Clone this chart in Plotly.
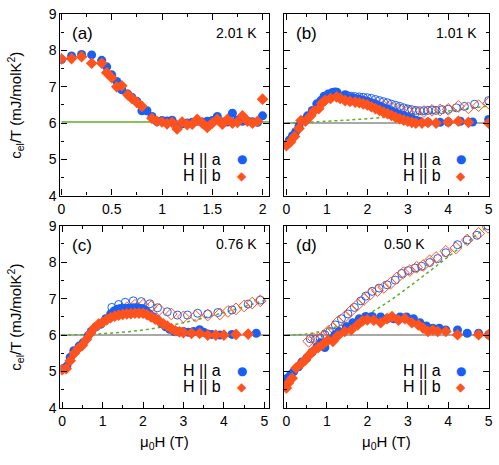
import plotly.graph_objects as go

# ---- data ------------------------------------------------------------------
# (a) 2.01 K
a_h_a = [0.0, 0.10, 0.20, 0.30, 0.40, 0.45, 0.50, 0.55, 0.60, 0.66, 0.70, 0.75, 0.80, 0.85, 0.90, 0.95,
         1.00, 1.05, 1.10, 1.15, 1.20, 1.25, 1.30, 1.35, 1.40, 1.45, 1.50, 1.55, 1.60, 1.65, 1.70, 1.75,
         1.80, 1.85, 1.90, 1.95, 2.00]
a_c_a = [7.75, 7.85, 7.89, 7.88, 7.73, 7.55, 7.33, 7.15, 6.92, 6.80, 6.71, 6.60, 6.34, 6.34, 6.18, 6.04,
         6.07, 6.06, 6.08, 5.95, 5.98, 6.00, 6.02, 6.05, 6.03, 6.05, 6.07, 6.18, 6.03, 6.03, 6.27, 6.08,
         6.05, 6.06, 6.04, 6.02, 6.20]
a_h_b = [0.0, 0.10, 0.20, 0.30, 0.40, 0.45, 0.50, 0.55, 0.60, 0.66, 0.70, 0.75, 0.80, 0.90, 0.95, 1.00,
         1.05, 1.10, 1.15, 1.20, 1.25, 1.30, 1.35, 1.40, 1.45, 1.50, 1.55, 1.60, 1.65, 1.70, 1.75, 1.80,
         1.85, 1.90, 1.95, 2.00]
a_c_b = [7.77, 7.78, 7.83, 7.65, 7.65, 7.39, 7.25, 7.00, 7.03, 6.78, 6.68, 6.57, 6.46, 6.13, 6.05, 6.03,
         5.98, 6.02, 5.84, 6.03, 5.96, 5.97, 6.10, 6.00, 5.88, 6.00, 6.10, 5.97, 6.10, 6.00, 6.02, 6.20,
         6.05, 6.00, 6.05, 6.66]
a_fit_h = [0.0, 2.07]
a_fit_c = [6.03, 6.03]

# (b) 1.01 K
b_h_a = [0.0, 0.07, 0.15, 0.23, 0.31, 0.42, 0.52, 0.64, 0.75, 0.85, 0.93, 1.03, 1.13, 1.20, 1.25, 1.45,
         1.60, 1.70, 1.80, 1.90, 2.00, 2.10, 2.20, 2.30, 2.40, 2.50, 2.60, 2.70, 2.80, 2.90, 3.00, 3.10,
         3.20, 3.30, 3.50, 3.80, 4.00, 4.30, 4.60, 5.00]
b_c_a = [5.40, 5.53, 5.65, 5.76, 5.92, 6.07, 6.20, 6.35, 6.53, 6.62, 6.74, 6.80, 6.84, 6.86, 6.85, 6.78,
         6.70, 6.68, 6.66, 6.63, 6.60, 6.56, 6.52, 6.47, 6.42, 6.38, 6.33, 6.28, 6.24, 6.20, 6.16, 6.12,
         6.08, 6.05, 6.02, 6.02, 6.03, 6.05, 6.03, 6.10]
b_h_a_open = [1.50, 1.60, 1.70, 1.80, 1.90, 2.00, 2.10, 2.20, 2.30, 2.40, 2.50, 2.60, 2.70, 2.80, 2.90,
              3.00, 3.10, 3.20, 3.30, 3.40, 3.50, 3.60, 3.70, 3.85, 4.00, 4.20, 4.40, 4.65, 5.00]
b_c_a_open = [6.76, 6.74, 6.73, 6.72, 6.71, 6.70, 6.68, 6.65, 6.62, 6.59, 6.56, 6.52, 6.49, 6.46, 6.42,
              6.39, 6.37, 6.35, 6.34, 6.34, 6.35, 6.36, 6.35, 6.37, 6.38, 6.42, 6.46, 6.52, 6.62]
b_h_b = [0.0, 0.10, 0.20, 0.31, 0.36, 0.47, 0.60, 0.68, 0.80, 0.88, 0.96, 1.09, 1.24, 1.33, 1.45, 1.57,
         1.70, 1.80, 1.90, 2.00, 2.10, 2.20, 2.30, 2.40, 2.50, 2.60, 2.70, 2.80, 2.90, 3.00, 3.10, 3.20,
         3.35, 3.50, 3.70, 4.00, 4.25, 4.50, 5.00]
b_c_b = [5.38, 5.48, 5.63, 5.85, 6.07, 6.05, 6.20, 6.33, 6.40, 6.55, 6.63, 6.68, 6.72, 6.68, 6.62, 6.60,
         6.58, 6.56, 6.53, 6.50, 6.45, 6.40, 6.35, 6.30, 6.26, 6.21, 6.16, 6.12, 6.08, 6.05, 6.02, 6.00,
         6.00, 6.02, 6.00, 6.03, 6.05, 6.02, 6.00]
b_h_b_open = [1.60, 1.80, 2.00, 2.20, 2.40, 2.60, 2.80, 3.00, 3.20, 3.40, 3.60, 3.80, 4.00, 4.25, 4.50,
              4.75, 5.00]
b_c_b_open = [6.66, 6.62, 6.58, 6.52, 6.47, 6.42, 6.37, 6.32, 6.30, 6.32, 6.35, 6.36, 6.38, 6.46, 6.42,
              6.48, 6.55]
b_fit_h = [0, 1, 2, 3, 4, 5]
b_fit_c = [6.00, 6.05, 6.12, 6.21, 6.33, 6.47]

# (c) 0.76 K
c_h_a = [0.02, 0.12, 0.20, 0.29, 0.42, 0.52, 0.64, 0.72, 0.84, 0.96, 1.08, 1.20, 1.28, 1.36, 1.44, 1.52,
         1.60, 1.68, 1.76, 1.85, 1.92, 2.00, 2.08, 2.16, 2.26, 2.36, 2.46, 2.56, 2.66, 2.77, 2.88, 3.00,
         3.12, 3.25, 3.40, 3.50, 3.60, 3.70, 3.90, 4.20, 4.80]
c_c_a = [5.08, 5.15, 5.39, 5.57, 5.70, 5.79, 5.98, 6.10, 6.23, 6.30, 6.45, 6.58, 6.66, 6.71, 6.73, 6.74,
         6.74, 6.74, 6.75, 6.75, 6.74, 6.72, 6.66, 6.58, 6.50, 6.42, 6.32, 6.23, 6.16, 6.10, 6.10, 6.10,
         6.08, 6.10, 6.15, 6.08, 6.03, 6.02, 6.00, 6.02, 6.05]
c_h_a_open = [1.23, 1.40, 1.56, 1.76, 1.96, 2.17, 2.36, 2.60, 2.85, 3.10, 3.35, 3.60, 3.85, 4.20, 4.60,
              4.90]
c_c_a_open = [6.76, 6.84, 6.90, 6.94, 6.92, 6.86, 6.75, 6.64, 6.55, 6.55, 6.60, 6.58, 6.62, 6.69, 6.85,
              6.96]
c_h_b = [0.0, 0.10, 0.20, 0.30, 0.40, 0.50, 0.60, 0.70, 0.80, 0.90, 1.00, 1.10, 1.20, 1.30, 1.40, 1.50,
         1.60, 1.70, 1.80, 1.90, 2.00, 2.10, 2.20, 2.30, 2.40, 2.50, 2.60, 2.70, 2.80, 2.90, 3.00, 3.20,
         3.40, 3.60, 3.80, 4.00, 4.30, 4.60]
c_c_b = [5.05, 5.08, 5.30, 5.50, 5.63, 5.72, 5.88, 6.05, 6.20, 6.30, 6.35, 6.42, 6.48, 6.52, 6.55, 6.57,
         6.58, 6.59, 6.60, 6.60, 6.60, 6.56, 6.50, 6.44, 6.38, 6.31, 6.25, 6.18, 6.12, 6.09, 6.07, 6.05,
         6.05, 6.00, 6.00, 6.00, 6.02, 6.03]
c_h_b_open = [1.60, 1.80, 2.00, 2.20, 2.40, 2.70, 3.00, 3.30, 3.60, 3.90, 4.10, 4.30, 4.50, 4.70, 4.90]
c_c_b_open = [6.75, 6.82, 6.82, 6.78, 6.70, 6.58, 6.50, 6.52, 6.55, 6.58, 6.65, 6.72, 6.80, 6.88, 6.94]
c_fit_h = [0, 1, 2, 3, 4, 5]
c_fit_c = [6.00, 6.04, 6.14, 6.34, 6.62, 6.95]

# (d) 0.50 K
d_h_a = [0.0, 0.02, 0.10, 0.18, 0.30, 0.38, 0.50, 0.63, 0.75, 0.85, 0.95, 1.07, 1.20, 1.30, 1.48, 1.64,
         1.80, 1.96, 2.12, 2.33, 2.49, 2.65, 2.81, 2.97, 3.14, 3.30, 3.46, 3.62, 3.78, 3.94, 4.23, 4.47,
         4.75, 5.00]
d_c_a = [4.67, 4.82, 4.91, 5.00, 5.13, 5.26, 5.37, 5.53, 5.66, 5.79, 5.66, 5.88, 6.01, 6.10, 6.23, 6.34,
         6.45, 6.51, 6.51, 6.50, 6.45, 6.45, 6.50, 6.50, 6.45, 6.34, 6.25, 6.19, 6.19, 6.14, 6.14, 6.05,
         6.05, 6.01]
d_h_a_open = [0.59, 0.71, 0.83, 0.95, 1.07, 1.21, 1.36, 1.52, 1.68, 1.84, 1.96, 2.12, 2.29, 2.49, 2.69,
              2.85, 3.01, 3.18, 3.34, 3.54, 3.74, 3.94, 4.23, 4.47, 4.71, 4.98]
d_c_a_open = [5.90, 5.88, 5.92, 6.01, 6.10, 6.28, 6.45, 6.58, 6.76, 6.94, 7.07, 7.20, 7.29, 7.38, 7.51,
              7.69, 7.77, 7.84, 7.89, 7.99, 8.10, 8.26, 8.48, 8.61, 8.74, 9.00]
d_h_b = [0.0, 0.05, 0.14, 0.24, 0.37, 0.47, 0.56, 0.67, 0.79, 0.91, 1.03, 1.15, 1.27, 1.44, 1.60, 1.76,
         1.88, 2.00, 2.16, 2.33, 2.49, 2.61, 2.77, 2.93, 3.10, 3.26, 3.38, 3.50, 3.62, 3.74, 3.94, 4.23,
         4.75, 5.00]
d_c_b = [4.55, 4.69, 4.82, 5.10, 5.22, 5.32, 5.45, 5.57, 5.66, 5.75, 5.86, 5.83, 5.98, 6.10, 6.14, 6.28,
         6.39, 6.42, 6.41, 6.34, 6.45, 6.51, 6.41, 6.45, 6.34, 6.28, 6.19, 6.10, 6.14, 6.10, 6.10, 6.01,
         6.01, 6.01]
d_h_b_open = [0.55, 0.67, 0.79, 0.91, 1.03, 1.15, 1.27, 1.44, 1.60, 1.76, 1.92, 2.08, 2.25, 2.41, 2.57,
              2.73, 2.89, 3.05, 3.22, 3.38, 3.54, 3.70, 3.94, 4.19, 4.47, 4.75, 4.98]
d_c_b_open = [5.83, 5.90, 5.92, 5.97, 6.10, 6.19, 6.36, 6.50, 6.67, 6.83, 6.98, 7.13, 7.22, 7.31, 7.42,
              7.57, 7.71, 7.77, 7.86, 7.91, 8.04, 8.13, 8.30, 8.39, 8.61, 8.79, 8.96]
d_fit_h = [0, 0.5, 1, 1.5, 2, 2.5, 3, 3.5, 4, 4.5, 5]
d_fit_c = [6.00, 6.03, 6.15, 6.33, 6.57, 6.90, 7.30, 7.72, 8.15, 8.58, 9.00]

const_h = [-0.1, 5.2]
const_c = [6.0, 6.0]

temps = ["2.01 K", "1.01 K", "0.76 K", "0.50 K"]
labels = ["(a)", "(b)", "(c)", "(d)"]

BLUE = "#1a5ff5"
ORANGE = "#ff521c"
GREEN = "#5fae28"
GRAY = "#8c8c8c"
FONT = "Liberation Sans, Arial, sans-serif"
W, H = 499, 465

# panel boxes in pixels: (left, right, top, bottom)
boxes = [(58.3, 270, 6.5, 194.3), (285, 493, 6.5, 194.3),
         (58.3, 270, 225.5, 414.3), (285, 493, 225.5, 414.3)]
xranges = [[-0.01, 2.066], [-0.06, 5.01], [-0.04, 5.12], [-0.06, 5.01]]

fig = go.Figure()


def add_pts(i, h, c, color, symbol, size, open_=False):
    ax = "" if i == 0 else str(i + 1)
    if open_:
        marker = dict(color=color, size=size, symbol=symbol + "-open", line=dict(color=color, width=1))
    else:
        marker = dict(color=color, size=size, symbol=symbol, line=dict(width=0))
    fig.add_trace(go.Scatter(x=h, y=c, mode="markers", marker=marker, showlegend=False, cliponaxis=True,
                             xaxis="x" + ax, yaxis="y" + ax))


def add_line(i, h, c, color, dash):
    ax = "" if i == 0 else str(i + 1)
    fig.add_trace(go.Scatter(x=h, y=c, mode="lines", showlegend=False,
                             line=dict(color=color, width=1.5, dash=dash, shape="spline"),
                             xaxis="x" + ax, yaxis="y" + ax))


# reference lines
add_line(0, a_fit_h, a_fit_c, GREEN, "solid")
for i, (fh, fc) in enumerate([(b_fit_h, b_fit_c), (c_fit_h, c_fit_c), (d_fit_h, d_fit_c)], start=1):
    add_line(i, const_h, const_c, GRAY, "solid")
    add_line(i, fh, fc, GREEN, "dot")

# open symbols
add_pts(1, b_h_a_open, b_c_a_open, BLUE, "circle", 8, True)
add_pts(1, b_h_b_open, b_c_b_open, ORANGE, "diamond", 9, True)
add_pts(2, c_h_a_open, c_c_a_open, BLUE, "circle", 8, True)
add_pts(2, c_h_b_open, c_c_b_open, ORANGE, "diamond", 9, True)
add_pts(3, d_h_a_open, d_c_a_open, BLUE, "circle", 8, True)
add_pts(3, d_h_b_open, d_c_b_open, ORANGE, "diamond", 9, True)

# filled symbols
for i, (ha, ca, hb, cb) in enumerate([(a_h_a, a_c_a, a_h_b, a_c_b), (b_h_a, b_c_a, b_h_b, b_c_b),
                                      (c_h_a, c_c_a, c_h_b, c_c_b), (d_h_a, d_c_a, d_h_b, d_c_b)]):
    add_pts(i, ha, ca, BLUE, "circle", 9)
    add_pts(i, hb, cb, ORANGE, "diamond", 9)


def axis_style(**kw):
    d = dict(showline=True, linecolor="black", linewidth=1.3, mirror="allticks",
             ticks="inside", ticklen=6, tickwidth=1, tickcolor="black", ticklabeloverflow="allow",
             showgrid=False, zeroline=False, tickfont=dict(size=14, color="black", family=FONT),
             minor=dict(ticks="inside", ticklen=3, tickwidth=1, tickcolor="black", showgrid=False))
    d.update(kw)
    return d


layout = {}
annotations = []
for i, (l, r, t, b) in enumerate(boxes):
    ax = "" if i == 0 else str(i + 1)
    xd = [l / W, r / W]
    yd = [1 - b / H, 1 - t / H]
    if i == 0:
        xticks = dict(tickmode="linear", tick0=0, dtick=0.5)
        xminor = 0.25
    else:
        xticks = dict(tickmode="linear", tick0=0, dtick=1)
        xminor = 0.5
    xa = axis_style(domain=xd, range=xranges[i], anchor="y" + ax, **xticks)
    xa["minor"]["dtick"] = xminor
    ya = axis_style(domain=yd, range=[4, 9], anchor="x" + ax, tickmode="linear", tick0=4, dtick=1,
                    showticklabels=(i % 2 == 0))
    ya["minor"]["dtick"] = 0.5
    layout["xaxis" + ax] = xa
    layout["yaxis" + ax] = ya

    # panel label and temperature
    annotations.append(dict(text=labels[i], x=(l + 10) / W, y=1 - (t + 20) / H, xref="paper", yref="paper",
                            xanchor="left", yanchor="middle", showarrow=False,
                            font=dict(size=17, family=FONT, color="black")))
    if i == 3:
        tx, txa = 407, "center"
    else:
        tx, txa = r - 10, "right"
    annotations.append(dict(text=temps[i], x=tx / W, y=1 - (t + 19) / H, xref="paper", yref="paper",
                            xanchor=txa, yanchor="middle", showarrow=False,
                            font=dict(size=14, family=FONT, color="black")))
    # key
    for k, (txt, glyph, col) in enumerate([("H || a", "●", BLUE), ("H || b", "◆", ORANGE)]):
        ky = t + 150 + 17 * k
        annotations.append(dict(text=txt, x=(r - 47) / W, y=1 - ky / H, xref="paper", yref="paper",
                                xanchor="right", yanchor="middle", showarrow=False,
                                font=dict(size=16, family=FONT, color="black")))
        annotations.append(dict(text=glyph, x=(r - 28) / W, y=1 - ky / H, xref="paper", yref="paper",
                                xanchor="center", yanchor="middle", showarrow=False,
                                font=dict(size=12, family="DejaVu Sans", color=col)))

# axis titles
for yc in [(6.5 + 194.3) / 2, (225.5 + 414.3) / 2]:
    annotations.append(dict(text="c<sub>el</sub>/T (mJ/molK<sup>2</sup>)", x=13 / W, y=1 - yc / H,
                            xref="paper", yref="paper", xanchor="center", yanchor="middle",
                            textangle=-90, showarrow=False, font=dict(size=15, family=FONT, color="black")))
for xc in [(58.3 + 270) / 2, (285 + 493) / 2]:
    annotations.append(dict(text="μ<sub>0</sub>H (T)", x=xc / W, y=1 - 450 / H, xref="paper", yref="paper",
                            xanchor="center", yanchor="middle", showarrow=False,
                            font=dict(size=15, family=FONT, color="black")))

fig.update_layout(**layout)
fig.update_layout(
    width=W, height=H,
    margin=dict(l=0, r=0, t=0, b=0),
    paper_bgcolor="white", plot_bgcolor="white",
    font=dict(family=FONT, size=14, color="black"),
    annotations=annotations,
)

# drop the default page margin so the figure sits at the window's corner
fig.write_html("out.html", config={"displayModeBar": False},
               post_script="document.body.style.margin='0';")
